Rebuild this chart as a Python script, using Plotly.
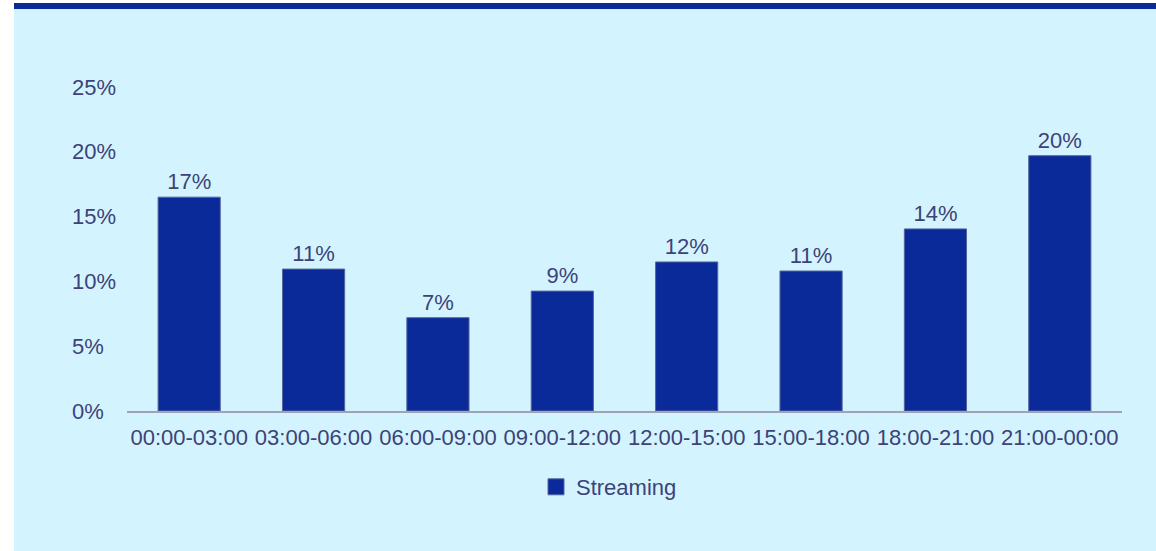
import plotly.graph_objects as go

categories = ["00:00-03:00", "03:00-06:00", "06:00-09:00", "09:00-12:00",
              "12:00-15:00", "15:00-18:00", "18:00-21:00", "21:00-00:00"]
streaming = [16.5, 10.95, 7.2, 9.25, 11.5, 10.8, 14.05, 19.7]
bar_labels = ["17%", "11%", "7%", "9%", "12%", "11%", "14%", "20%"]
y_ticks = [0, 5, 10, 15, 20, 25]
y_tick_labels = ["0%", "5%", "10%", "15%", "20%", "25%"]

TEXT = "#3d4279"
BAR = "#0b2a99"
FONT = "Liberation Sans, Arial, sans-serif"
FS = 22

# plot area in pixels
L, R, T, B = 127, 1122, 87, 411
W, H = 1156, 551
def px_x(X):
    return (X - L) / (R - L)
def px_y(Y):
    return (B - Y) / (B - T)

fig = go.Figure()
fig.add_trace(go.Bar(
    x=categories, y=streaming, name="Streaming", showlegend=False,
    marker=dict(color=BAR, line=dict(color="#56659e", width=1)),
    width=0.5,
    text=bar_labels, textposition="outside",
    textfont=dict(size=FS, color=TEXT, family=FONT),
    cliponaxis=False,
))
# legend entry (square swatch like the reference)
fig.add_trace(go.Scatter(
    x=[None], y=[None], mode="markers", name="Streaming",
    marker=dict(symbol="square", size=19, color=BAR, line=dict(color="#56659e", width=1)),
))

# left-aligned y-axis labels, as in the reference
annotations = [
    dict(x=px_x(70), xref="paper", xanchor="left", y=v, yref="y", yanchor="middle",
         text=t, showarrow=False, font=dict(size=FS, color=TEXT, family=FONT))
    for v, t in zip(y_ticks, y_tick_labels)
]

fig.update_layout(
    width=W, height=H,
    margin=dict(l=L, r=W - R, t=T, b=H - B, pad=0),
    paper_bgcolor="white",
    plot_bgcolor="rgba(0,0,0,0)",
    font=dict(family=FONT, size=FS, color=TEXT),
    showlegend=True,
    legend=dict(orientation="h", x=px_x(536), xanchor="left", y=px_y(487), yanchor="middle",
                font=dict(size=FS, color=TEXT), itemwidth=30, bgcolor="rgba(0,0,0,0)"),
    annotations=annotations,
    shapes=[
        dict(type="rect", xref="paper", yref="paper", layer="below",
             x0=px_x(14), x1=px_x(1160), y0=px_y(560), y1=px_y(9),
             fillcolor="#d3f4fe", line=dict(width=0)),
        dict(type="rect", xref="paper", yref="paper", layer="below",
             x0=px_x(14), x1=px_x(1160), y0=px_y(9), y1=px_y(3),
             fillcolor="#0a2a9a", line=dict(width=0)),
    ],
)
fig.update_xaxes(showgrid=False, showline=True, linecolor="#9ea3b5", linewidth=2,
                 ticks="", tickfont=dict(size=FS, color=TEXT, family=FONT),
                 ticklabelstandoff=6)
fig.update_yaxes(range=[0, 25], tickmode="array", tickvals=y_ticks,
                 showticklabels=False,
                 showgrid=False, zeroline=False, showline=False, ticks="")

fig.write_html("out.html")
